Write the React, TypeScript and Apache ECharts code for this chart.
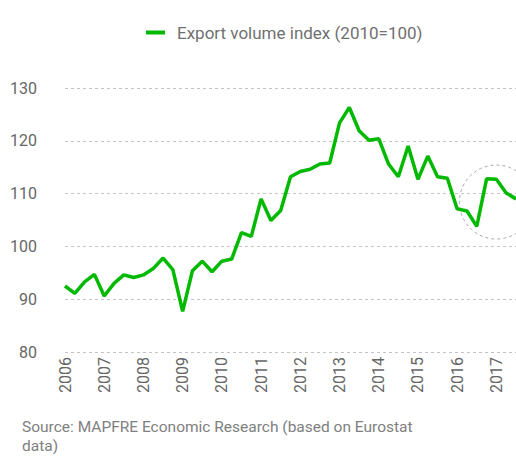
import React, { useEffect, useRef } from "react";
import * as echarts from "echarts";

const years = ["2006","2007","2008","2009","2010","2011","2012","2013","2014","2015","2016","2017"];
const quarters: string[] = [];
years.forEach((y) => { ["Q1","Q2","Q3","Q4"].forEach((q) => quarters.push(y + " " + q)); });
const categories = quarters.slice(0, 47);

const exportIndex = [
  92.5, 91.1, 93.3, 94.7, 90.6, 93.0, 94.6, 94.1,
  94.6, 95.8, 97.8, 95.6, 87.7, 95.4, 97.2, 95.2,
  97.2, 97.6, 102.6, 101.9, 109.0, 104.9, 106.8, 113.2,
  114.2, 114.6, 115.6, 115.8, 123.4, 126.3, 121.9, 120.1,
  120.4, 115.6, 113.2, 119.0, 112.7, 117.1, 113.2, 112.9,
  107.1, 106.7, 103.8, 112.8, 112.7, 110.1, 109.0,
];

const seriesName = "Export volume index (2010=100)";
const sourceText = "Source: MAPFRE Economic Research (based on Eurostat\ndata)";
const highlightCenter = [43.8, 108.4];

const FONT = "Roboto, 'DejaVu Sans', sans-serif";

export default function App() {
  const ref = useRef<HTMLDivElement>(null);
  useEffect(() => {
    document.body.style.margin = "0";
    const chart = echarts.init(ref.current!, null, { renderer: "svg" });
    chart.setOption({
      animation: false,
      textStyle: { fontFamily: FONT },
      legend: {
        top: 19,
        left: 141,
        itemWidth: 19,
        itemHeight: 4,
        icon: "rect",
        textStyle: { fontSize: 17, color: "#707070", fontFamily: FONT, padding: [0, 0, 0, 7] },
        data: [seriesName],
      },
      grid: { left: 65, right: 0, top: 88, bottom: 104, containLabel: false },
      xAxis: {
        type: "category",
        data: categories,
        boundaryGap: false,
        axisLine: { show: false },
        axisTick: { show: false },
        axisLabel: {
          interval: 3,
          rotate: 90,
          margin: 5,
          fontSize: 16,
          color: "#666",
          fontFamily: FONT,
          formatter: (v: string) => v.slice(0, 4),
        },
        splitLine: { show: false },
      },
      yAxis: {
        type: "value",
        min: 80,
        max: 130,
        interval: 10,
        axisLine: { show: false },
        axisTick: { show: false },
        axisLabel: { fontSize: 16, color: "#666", margin: 28, fontFamily: FONT },
        splitLine: { lineStyle: { type: [3, 3], color: "#c4c4c4", width: 1 } },
      },
      series: [
        {
          name: seriesName,
          type: "line",
          data: exportIndex,
          symbol: "none",
          lineStyle: { color: "#00b900", width: 3.5 },
          itemStyle: { color: "#00b900" },
        },
      ],
    });
    const c = chart.convertToPixel({ seriesIndex: 0 }, highlightCenter) as number[];
    chart.setOption({
      graphic: [
        {
          type: "circle",
          shape: { cx: c[0], cy: c[1], r: 37 },
          style: { fill: "none", stroke: "#a8a8a8", lineWidth: 1, lineDash: [3, 3] },
          silent: true,
        },
        {
          type: "text",
          left: 22,
          top: 417,
          style: {
            text: sourceText,
            fontSize: 15.5,
            lineHeight: 19,
            fill: "#808080",
            fontFamily: FONT,
          },
        },
      ],
    });
    return () => chart.dispose();
  }, []);
  return <div ref={ref} style={{ width: 516, height: 456 }} />;
}
